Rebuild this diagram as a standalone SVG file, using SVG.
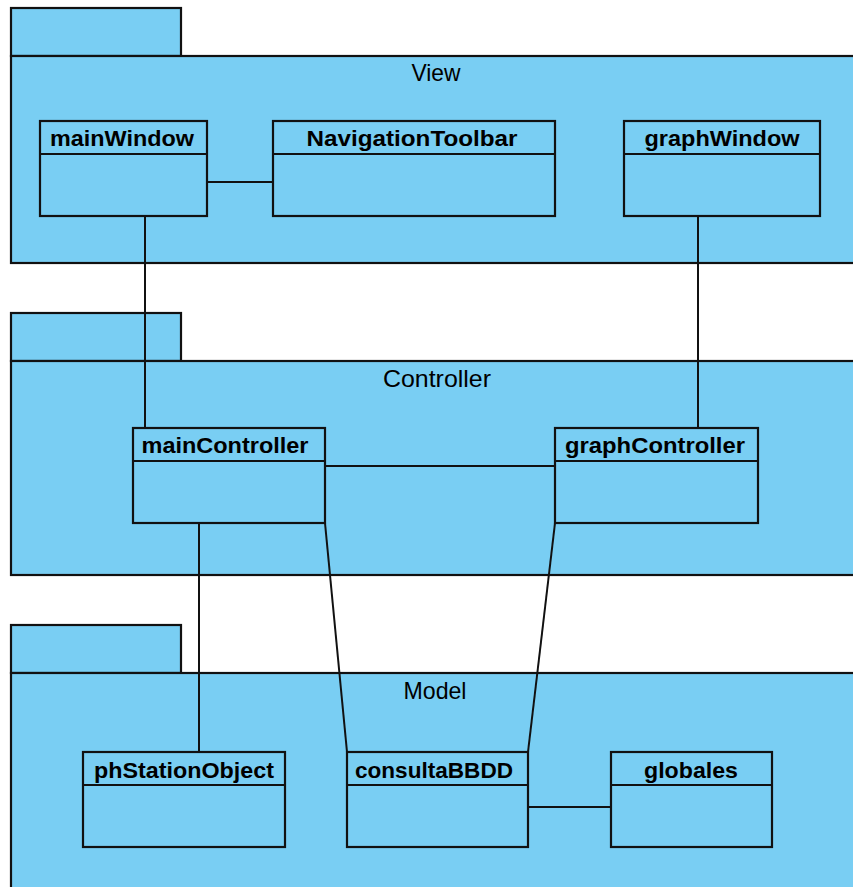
<svg xmlns="http://www.w3.org/2000/svg" width="853" height="887" viewBox="0 0 853 887">
  <style>
    .pkg { fill: #79cef3; stroke: #111; stroke-width: 2.2; }
    .cls { fill: #79cef3; stroke: #111; stroke-width: 2.2; }
    .sep { stroke: #111; stroke-width: 2.2; }
    .pkgname { font-family: "Liberation Sans", Arial, sans-serif; font-size: 24px; fill: #000; text-anchor: middle; }
    .clsname { font-family: "Liberation Sans", Arial, sans-serif; font-size: 22px; font-weight: bold; fill: #000; text-anchor: middle; }
    .link { stroke: #111; stroke-width: 2; fill: none; }
  </style>
  <rect width="853" height="887" fill="#fff"/>

  <!-- Packages -->
  <g id="pkg-view">
    <rect class="pkg" x="11" y="8" width="170" height="48"/>
    <rect class="pkg" x="11" y="56" width="860" height="207"/>
    <text class="pkgname" x="436" y="81" textLength="49" lengthAdjust="spacingAndGlyphs">View</text>
  </g>
  <g id="pkg-controller">
    <rect class="pkg" x="11" y="313" width="170" height="48"/>
    <rect class="pkg" x="11" y="361" width="860" height="214"/>
    <text class="pkgname" x="437" y="387" textLength="108" lengthAdjust="spacingAndGlyphs">Controller</text>
  </g>
  <g id="pkg-model">
    <rect class="pkg" x="11" y="625" width="170" height="48"/>
    <rect class="pkg" x="11" y="673" width="860" height="230"/>
    <text class="pkgname" x="435" y="699" textLength="63" lengthAdjust="spacingAndGlyphs">Model</text>
  </g>

  <!-- Connectors -->
  <g id="connectors">
    <line class="link" x1="207" y1="182" x2="273" y2="182"/>
    <line class="link" x1="145" y1="216" x2="145" y2="428"/>
    <line class="link" x1="698" y1="216" x2="698" y2="428"/>
    <line class="link" x1="325" y1="466" x2="555" y2="466"/>
    <line class="link" x1="199" y1="523" x2="199" y2="752"/>
    <line class="link" x1="325" y1="523" x2="347" y2="752"/>
    <line class="link" x1="555" y1="523" x2="528" y2="752"/>
    <line class="link" x1="528" y1="807" x2="611" y2="807"/>
  </g>

  <!-- View classes -->
  <g id="mainWindow">
    <rect class="cls" x="40" y="121" width="167" height="95"/>
    <line class="sep" x1="40" y1="154" x2="207" y2="154"/>
    <text class="clsname" x="122" y="146" textLength="144" lengthAdjust="spacingAndGlyphs">mainWindow</text>
  </g>
  <g id="NavigationToolbar">
    <rect class="cls" x="273" y="121" width="282" height="95"/>
    <line class="sep" x1="273" y1="154" x2="555" y2="154"/>
    <text class="clsname" x="412" y="146" textLength="211" lengthAdjust="spacingAndGlyphs">NavigationToolbar</text>
  </g>
  <g id="graphWindow">
    <rect class="cls" x="624" y="121" width="196" height="95"/>
    <line class="sep" x1="624" y1="154" x2="820" y2="154"/>
    <text class="clsname" x="722" y="146" textLength="155" lengthAdjust="spacingAndGlyphs">graphWindow</text>
  </g>

  <!-- Controller classes -->
  <g id="mainController">
    <rect class="cls" x="133" y="428" width="192" height="95"/>
    <line class="sep" x1="133" y1="461" x2="325" y2="461"/>
    <text class="clsname" x="225" y="453" textLength="167" lengthAdjust="spacingAndGlyphs">mainController</text>
  </g>
  <g id="graphController">
    <rect class="cls" x="555" y="428" width="203" height="95"/>
    <line class="sep" x1="555" y1="461" x2="758" y2="461"/>
    <text class="clsname" x="655" y="453" textLength="180" lengthAdjust="spacingAndGlyphs">graphController</text>
  </g>

  <!-- Model classes -->
  <g id="phStationObject">
    <rect class="cls" x="83" y="752" width="202" height="95"/>
    <line class="sep" x1="83" y1="785" x2="285" y2="785"/>
    <text class="clsname" x="184" y="778" textLength="180" lengthAdjust="spacingAndGlyphs">phStationObject</text>
  </g>
  <g id="consultaBBDD">
    <rect class="cls" x="347" y="752" width="181" height="95"/>
    <line class="sep" x1="347" y1="785" x2="528" y2="785"/>
    <text class="clsname" x="434" y="778" textLength="158" lengthAdjust="spacingAndGlyphs">consultaBBDD</text>
  </g>
  <g id="globales">
    <rect class="cls" x="611" y="752" width="161" height="95"/>
    <line class="sep" x1="611" y1="785" x2="772" y2="785"/>
    <text class="clsname" x="691" y="778" textLength="94" lengthAdjust="spacingAndGlyphs">globales</text>
  </g>
</svg>
